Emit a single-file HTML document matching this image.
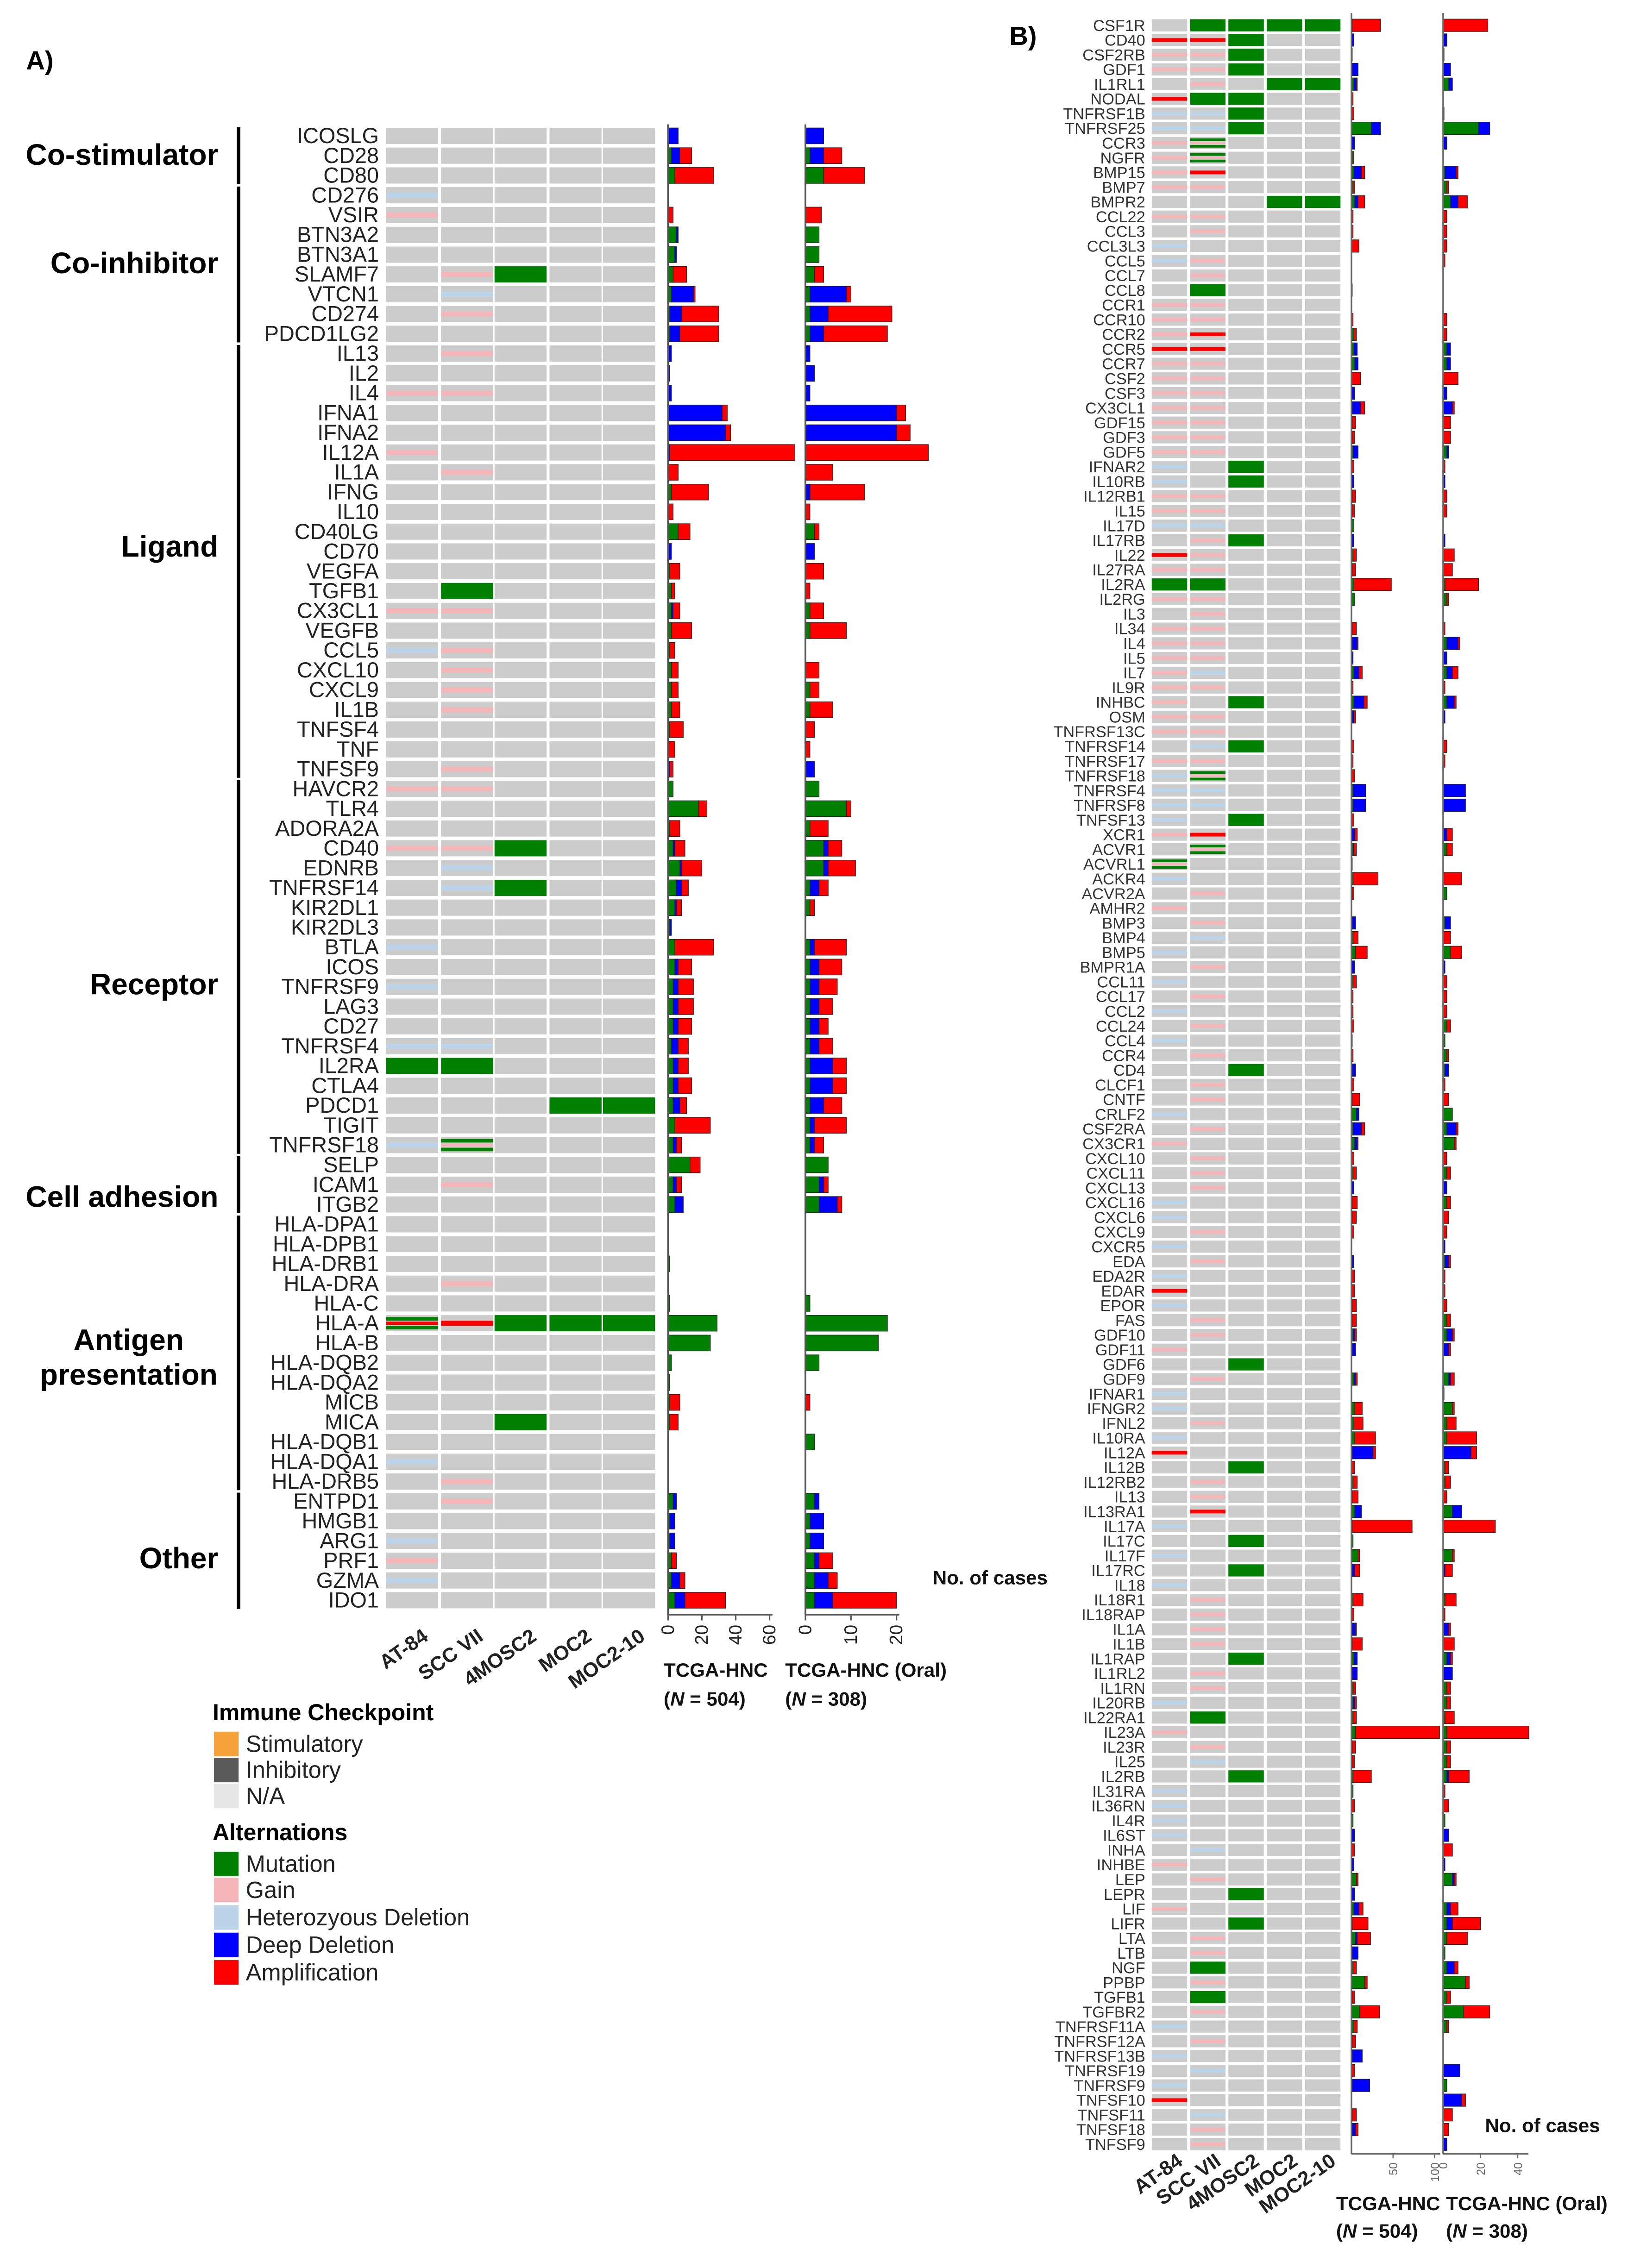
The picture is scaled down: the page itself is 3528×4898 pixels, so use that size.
<!DOCTYPE html>
<html><head><meta charset="utf-8">
<style>
html,body{margin:0;padding:0;background:#fff;}
svg{display:block;font-family:"Liberation Sans",Arial,sans-serif;}
</style></head>
<body>
<svg id="fig" xmlns="http://www.w3.org/2000/svg" width="3528" height="4898" viewBox="0 0 1130 1569" preserveAspectRatio="none">
<text x="18" y="48" font-size="18" font-weight="bold">A)</text>
<text x="698" y="31" font-size="18" font-weight="bold">B)</text>
<g id="gA"></g>
<g id="gB"></g>
<g id="legend">
<text x="147" y="1190" font-size="16" font-weight="bold">Immune Checkpoint</text>
<rect x="148" y="1198" width="17" height="17" fill="#f7a13a"/><text x="170" y="1212" font-size="16.2" fill="#222">Stimulatory</text>
<rect x="148" y="1216" width="17" height="17" fill="#595959"/><text x="170" y="1230" font-size="16.2" fill="#222">Inhibitory</text>
<rect x="148" y="1234" width="17" height="17" fill="#e6e6e6"/><text x="170" y="1248" font-size="16.2" fill="#222">N/A</text>
<text x="147" y="1273" font-size="16" font-weight="bold">Alternations</text>
<rect x="148" y="1281" width="17" height="17" fill="#008000"/><text x="170" y="1295" font-size="16.2" fill="#222">Mutation</text>
<rect x="148" y="1299" width="17" height="17" fill="#f4b6b8"/><text x="170" y="1313" font-size="16.2" fill="#222">Gain</text>
<rect x="148" y="1318" width="17" height="17" fill="#bcd4ea"/><text x="170" y="1332" font-size="16.2" fill="#222">Heterozyous Deletion</text>
<rect x="148" y="1337" width="17" height="17" fill="#0000ff"/><text x="170" y="1351" font-size="16.2" fill="#222">Deep Deletion</text>
<rect x="148" y="1356" width="17" height="17" fill="#ff0000"/><text x="170" y="1370" font-size="16.2" fill="#222">Amplification</text>
</g>
</svg>
<script>
// ---------- Panel A data ----------
const genesA = ["ICOSLG","CD28","CD80",
"CD276","VSIR","BTN3A2","BTN3A1","SLAMF7","VTCN1","CD274","PDCD1LG2",
"IL13","IL2","IL4","IFNA1","IFNA2","IL12A","IL1A","IFNG","IL10","CD40LG","CD70","VEGFA","TGFB1","CX3CL1","VEGFB","CCL5","CXCL10","CXCL9","IL1B","TNFSF4","TNF","TNFSF9",
"HAVCR2","TLR4","ADORA2A","CD40","EDNRB","TNFRSF14","KIR2DL1","KIR2DL3","BTLA","ICOS","TNFRSF9","LAG3","CD27","TNFRSF4","IL2RA","CTLA4","PDCD1","TIGIT","TNFRSF18",
"SELP","ICAM1","ITGB2",
"HLA-DPA1","HLA-DPB1","HLA-DRB1","HLA-DRA","HLA-C","HLA-A","HLA-B","HLA-DQB2","HLA-DQA2","MICB","MICA","HLA-DQB1","HLA-DQA1","HLA-DRB5",
"ENTPD1","HMGB1","ARG1","PRF1","GZMA","IDO1"];
const heatA = [".....",".....",".....",
"h....","g....",".....",".....",".gm..",".h...",".g...",".....",
".g...",".....","gg...",".....",".....","g....",".g...",".....",".....",".....",".....",".....",".m...","gg...",".....","hg...",".g...",".g...",".g...",".....",".....",".g...",
"gg...",".....",".....","ggm..",".h...",".hm..",".....",".....","h....",".....","h....",".....",".....","hh...","mm...",".....","...mm",".....","hs...",
".....",".g...",".....",
".....",".....",".....",".g...",".....","xammm",".....",".....",".....",".....","..m..",".....","h....",".g...",
".g...",".....","h....","g....","h....","....."];
const allMutA = [0,2,4, 0,0,5,4,3,2,1,1, 0,0,0,0,0,0,0,2,0,6,0,1,2,2,2,1,2,2,2,1,0,0, 3,18,1,3,7,5,4,1,4,4,3,3,3,2,3,3,3,4,3, 13,3,4, 0,0,1,0,1,29,25,2,1,1,1,0,0,0, 3,1,1,2,2,4];
const allDelA = [6,5,0, 0,0,1,1,0,13,7,6, 2,1,2,32,34,1,0,0,0,0,2,0,0,1,0,0,0,0,0,0,0,1, 0,0,0,1,1,3,1,1,0,2,3,3,3,4,3,3,4,0,2, 0,2,5, 0,0,0,0,0,0,0,0,0,0,0,0,0,0, 2,3,3,0,5,6];
const allAmpA = [0,7,23, 0,3,0,0,8,1,22,23, 0,0,0,3,3,74,6,22,3,7,0,6,2,4,12,3,4,4,5,8,4,2, 0,5,6,6,12,4,3,0,23,8,9,9,8,6,6,8,4,21,3, 6,3,0, 0,0,0,0,0,0,0,0,0,6,5,0,0,0, 0,0,0,3,3,24];
const oralMutA = [0,1,4, 0,0,3,3,2,1,1,1, 0,0,0,0,0,0,0,0,0,2,0,0,0,1,1,0,0,1,1,0,0,0, 3,9,1,4,4,1,1,0,1,1,1,1,1,1,1,1,1,1,1, 5,3,3, 0,0,0,0,1,18,16,3,0,0,0,2,0,0, 2,1,1,2,2,2];
const oralDelA = [4,3,0, 0,0,0,0,0,8,4,3, 1,2,1,20,20,0,0,1,0,0,2,0,0,0,0,0,0,0,0,0,0,2, 0,0,0,1,1,2,0,0,1,2,2,2,2,2,5,5,3,1,1, 0,1,4, 0,0,0,0,0,0,0,0,0,0,0,0,0,0, 1,3,3,1,3,4];
const oralAmpA = [0,4,9, 0,3.5,0,0,2,1,14,14, 0,0,0,2,3,27,6,12,1,1,0,4,1,3,8,0,3,2,5,2,1,0, 0,1,4,3,6,2,1,0,7,5,4,3,2,3,3,3,4,7,2, 0,1,1, 0,0,0,0,0,0,0,0,0,1,0,0,0,0, 0,0,0,3,2,14];
const sectionNames = ["Co-stimulator","Co-inhibitor","Ligand","Receptor","Cell adhesion","Antigen presentation","Other"];
const sectionStart = [0,3,11,33,52,55,69];
const sectionEnd = [2,10,32,51,54,68,74];
const cellLines = ["AT-84","SCC VII","4MOSC2","MOC2","MOC2-10"];
const ticksA1 = [0,20,40,60];
const ticksA2 = [0,10,20];

// ---------- Panel B data ----------
const genesB = ["CSF1R","CD40","CSF2RB","GDF1","IL1RL1","NODAL","TNFRSF1B","TNFRSF25","CCR3","NGFR","BMP15","BMP7","BMPR2","CCL22","CCL3","CCL3L3","CCL5","CCL7","CCL8","CCR1","CCR10","CCR2","CCR5","CCR7","CSF2","CSF3","CX3CL1","GDF15","GDF3","GDF5","IFNAR2","IL10RB","IL12RB1","IL15","IL17D","IL17RB","IL22","IL27RA","IL2RA","IL2RG","IL3","IL34","IL4","IL5","IL7","IL9R","INHBC","OSM","TNFRSF13C","TNFRSF14","TNFRSF17","TNFRSF18","TNFRSF4","TNFRSF8","TNFSF13","XCR1","ACVR1","ACVRL1","ACKR4","ACVR2A","AMHR2","BMP3","BMP4","BMP5","BMPR1A","CCL11","CCL17","CCL2","CCL24","CCL4","CCR4","CD4","CLCF1","CNTF","CRLF2","CSF2RA","CX3CR1","CXCL10","CXCL11","CXCL13","CXCL16","CXCL6","CXCL9","CXCR5","EDA","EDA2R","EDAR","EPOR","FAS","GDF10","GDF11","GDF6","GDF9","IFNAR1","IFNGR2","IFNL2","IL10RA","IL12A","IL12B","IL12RB2","IL13","IL13RA1","IL17A","IL17C","IL17F","IL17RC","IL18","IL18R1","IL18RAP","IL1A","IL1B","IL1RAP","IL1RL2","IL1RN","IL20RB","IL22RA1","IL23A","IL23R","IL25","IL2RB","IL31RA","IL36RN","IL4R","IL6ST","INHA","INHBE","LEP","LEPR","LIF","LIFR","LTA","LTB","NGF","PPBP","TGFB1","TGFBR2","TNFRSF11A","TNFRSF12A","TNFRSF13B","TNFRSF19","TNFRSF9","TNFSF10","TNFSF11","TNFSF18","TNFSF9"];
const heatB = [".mmmm","aam..","ggm..","ggm..",".g.mm","amm..","hhm..","hhm..","gs...","gs...","ga...","gg...","...mm","gg...",".g...","h....","hg...",".g...",".m...","gg...","gg...","ga...","aa...","gg...","gg...","gg...","gg...","gg...","gg...","gg...","h.m..","h.m..","gg...","gg...","hh...",".gm..","ag...","gg...","mm...","gg...",".g...","gg...","gg...","gg...","gh...","gg...","g.m..","gg...","gg...",".hm..","gg...","hs...","hh...","hh...","h.m..","ga...",".s...","s....","h....",".g...","g....",".g...",".h...","h....",".g...","h....",".g...","h....",".g...","h....",".g...","..m..",".g...",".g...","h....",".g...","g....",".g...",".g...",".g...","h....","h....",".g...","h....",".g...","h....","a....","h....",".g...",".g...","g....","..m..",".g...","h....","h....",".g...","h....","a....","..m..",".g...",".g...",".a...","h....","..m..","h....","..m..","h....",".g...",".g...",".g...",".g...","..m..",".g...",".g...","h....",".m...","g....",".g...",".h...","..m..","h....","h....","h....","h....",".h...","g....",".g...","..m..","g....","..m..",".g...",".g...",".m...",".g...",".m...",".g...","h....",".g...","h....",".h...","h....","a....",".h...",".g...",".g..."];
const allMutB = [1,0,1,1,3,0,0,24,0,2,3,2,4,0,0,0,0,0,0,0,0,3,3,4,0,0,1,1,1,2,0,0,1,1,3,0,2,1,3,4,0,1,1,0,3,0,3,1,0,0,0,0,2,2,0,0,2,1,2,1,0,1,2,5,0,2,0,0,0,1,0,1,0,1,6,2,4,0,2,0,1,1,0,0,1,0,0,1,1,2,1,0,3,0,4,3,4,1,0,2,1,4,1,2,8,1,0,2,0,0,1,3,1,2,2,2,5,1,1,2,2,0,2,0,0,0,6,0,3,1,5,1,2,16,1,10,3,1,1,0,1,0,1,1,0];
const allDelB = [0,3,0,7,3,0,0,11,4,0,9,0,4,0,0,0,0,0,0,0,0,0,4,4,0,4,10,0,0,6,0,3,0,0,0,3,0,0,0,0,0,0,6,2,6,0,12,2,0,0,0,0,15,15,0,4,1,0,0,0,0,4,0,0,4,0,0,0,0,0,0,4,0,0,3,10,3,0,0,3,0,0,0,0,2,0,0,0,0,2,4,0,2,0,0,0,0,25,0,0,0,8,0,0,0,3,0,0,0,5,0,4,6,0,2,0,0,0,0,0,0,0,0,4,0,3,0,4,6,0,2,7,0,0,0,0,0,0,12,0,21,0,0,4,0];
const allAmpB = [34,0,0,0,1,2,3,0,0,1,4,2,8,2,2,9,0.5,0,1,0,2,3,0,0,11,0,5,4,3,0,3,0,4,3,0,0,4,4,45,0,0,5,1,0,4,2,4,2,0,3,2,4,0,0,3,3,3,0,30,2,0,0,6,14,0,4,2,2,3,0,2,0,3,9,0,4,1,3,4,0,6,5,3,0,0,4,4,5,5,2,0,0,2,0,9,11,25,3,4,5,7,0,72,0,2,6,0,12,3,1,12,0,0,3,2,4,101,4,3,22,0,4,0,0,4,0,2,0,5,19,16,0,4,3,3,24,4,4,0,4,0,0,5,3,0];
const oralMutB = [0,0,0.5,0,3,0,0.5,19,0,0,1,2,4,0,0,0,0,0,0,0,0,0,2,2,0,0,0,0,0,2,0,0,0,0,0,0,0,0,1,2,0,0,2,0,2,0,2,0,0,0,0,0,0,0,0,0,2,0,0,2,0,1,0,4,0,0,0,0,2,1,2,1,0,0,5,2,6,0,2,0,2,0,0,0,1,0,0,0,2,2,0,0,3,0,5,2,2,0,1,1,0,5,0,0,5,0,0,1,0,0,0,2,0,2,2,1,2,2,2,2,0,0,1,0,0,0,5,0,2,2,2,1,2,12,2,11,2,0,0,0,2,0,0,0,0];
const oralDelB = [0,2,0,4,2,0,0,6,2,0,6,0,4,0,0,0,0,0,0,0,0,0,2,2,0,2,5,0,0,1,0,1,0,0,0,1,0,0,0,0,0,0,6,2,3,0,4,1,0,0,0,0,12,12,0,2,0,0,0,0,0,3,0,0,1,0,0,0,0,0,0,2,0,0,0,5,0,0,0,2,0,0,0,1,2,0,0,0,0,3,3,0,1,0,0,0,0,15,0,0,0,5,0,0,0,1,0,0,0,3,0,2,5,0,0,0,0,0,0,1,0,0,0,3,0,1,1,0,2,3,0,0,4,0,0,0,0,0,0,9,0,10,0,0,2,0];
const oralAmpB = [24,0,0,0,0,0,0,0,0,0,1,1,5,2,2,2,1,0,0,0,2,2,0,0,8,0,1,4,4,0,1,0,2,2,0,0,6,5,18,1,0,1,1,0,3,1,1,0,0,2,1,0,0,0,0,3,3,0,10,0,0,0,4,6,0,2,2,2,2,0,1,0,1,3,0,1,1,2,2,0,2,3,2,0,1,1,1,2,2,1,1,0,2,0.5,1,5,16,3,2,3,2,0,28,0,1,4,0,6,1,1,6,1,0,2,2,5,44,2,2,11,1,3,0,0,5,0,1,0,4,15,11,0,2,2,2,14,1,0,0,0,0,2,5,3,0];
const ticksB1 = [50,100];
const ticksB2 = [20,40];

// ---------- drawing helpers ----------
const NS = "http://www.w3.org/2000/svg";
function mk(tag, attrs, parent, txt){
  const e = document.createElementNS(NS, tag);
  for (const k in attrs) e.setAttribute(k, attrs[k]);
  if (txt !== undefined) e.textContent = txt;
  parent.appendChild(e);
  return e;
}
const COL = {m:"#008000", g:"#f4b6b8", h:"#bcd4ea", a:"#ff0000", gray:"#cccccc", del:"#0000ff"};

function drawHeatCell(parent, code, x, y, w, h, lineH){
  const c = mk("rect", {x:x, y:y, width:w, height:h, fill:COL.gray}, parent);
  
  
  const cy = y + h/2;
  if (code === "m") {
    const r = mk("rect", {x:x, y:y, width:w, height:h, fill:COL.m}, parent);
    
    
  } else if (code === "g" || code === "h" || code === "a") {
    const r = mk("rect", {x:x, y:cy-lineH/2, width:w, height:lineH, fill:COL[code]}, parent);
    
    
  } else if (code === "s" || code === "x") {
    const mid = code === "s" ? COL.g : COL.a;
    const s1 = mk("rect", {x:x, y:y+h*0.12, width:w, height:h*0.22, fill:COL.m}, parent);
    
    
    const s2 = mk("rect", {x:x, y:y+h*0.40, width:w, height:h*0.2, fill:mid}, parent);
    
    
    const s3 = mk("rect", {x:x, y:y+h*0.66, width:w, height:h*0.22, fill:COL.m}, parent);
    
    
  }
}

function drawStack(parent, scale, y, h, mut, del, amp){
  const parts = [[mut, COL.m, 'bar-mutation'], [del, COL.del, 'bar-deep-deletion'], [amp, COL.a, 'bar-amplification']];
  let v0 = 0;
  for (const p of parts){
    if (p[0] > 0){
      const x1 = scale(v0), x2 = scale(v0 + p[0]);
      const r = mk("rect", {x:x1, y:y, width:Math.max(x2-x1,0.3), height:h, fill:p[1], stroke:"#222", "stroke-width":0.4}, parent);
      
      
      v0 += p[0];
    }
  }
}

// ---------- Panel A ----------
(function(){
  const g = document.getElementById("gA");
  const rowY = i => 94 + i*13.69;
  const colX = [267,305,342,380,417], colW = 36, cellH = 11.2;
  const s1 = v => 462 + v*1.17;
  const s2 = v => 557 + v*3.15;
  genesA.forEach((name,i)=>{
    const y = rowY(i);
    const t = mk("text", {x:262, y:y+5, "font-size":15, fill:"#222", "text-anchor":"end"}, g, name);
    
    
    for (let c=0;c<5;c++) drawHeatCell(g, heatA[i][c], colX[c], y-cellH/2, colW, cellH, 3.5);
    drawStack(g, s1, y-5.5, 11, allMutA[i], allDelA[i], allAmpA[i]);
    drawStack(g, s2, y-5.5, 11, oralMutA[i], oralDelA[i], oralAmpA[i]);
  });
  const labelY = [107,182,378,681,828,927,1078];
  sectionNames.forEach((n,k)=>{
    const l = mk("line", {x1:165, x2:165, y1:rowY(sectionStart[k])-6, y2:rowY(sectionEnd[k])+6, stroke:"#000", "stroke-width":2.4}, g);
    
    
    if (n === "Antigen presentation"){
      const t1 = mk("text", {x:89, y:labelY[k]+7, "font-size":20.5, "font-weight":"bold", "text-anchor":"middle"}, g, "Antigen");
      
      
      const t2 = mk("text", {x:89, y:labelY[k]+31, "font-size":20.5, "font-weight":"bold", "text-anchor":"middle"}, g, "presentation");
      
      
    } else {
      const t = mk("text", {x:151, y:labelY[k]+7, "font-size":20.5, "font-weight":"bold", "text-anchor":"end"}, g, n);
      
      
    }
  });
  const yTop = 86, yBot = 1117;
  [[462,s1,ticksA1,"all"],[557,s2,ticksA2,"oral"]].forEach(ax=>{
    const v = mk("line", {x1:ax[0], x2:ax[0], y1:yTop, y2:yBot, stroke:"#555", "stroke-width":1.2}, g);
    
    
    const last = ax[2][ax[2].length-1];
    const hz = mk("line", {x1:ax[0], x2:ax[1](last)+2, y1:yBot, y2:yBot, stroke:"#555", "stroke-width":1.2}, g);
    
    
    ax[2].forEach(tv=>{
      const x = ax[1](tv);
      const tk = mk("line", {x1:x, x2:x, y1:yBot, y2:yBot+4, stroke:"#555", "stroke-width":1}, g);
      
      
      const tl = mk("text", {x:0, y:0, "font-size":12.5, fill:"#222", "text-anchor":"end", transform:`translate(${x+4},${yBot+7}) rotate(-90)`}, g, String(tv));
      
      
    });
  });
  cellLines.forEach((n,c)=>{
    const x = colX[c] + colW/2 + 12;
    const t = mk("text", {x:0, y:0, "font-size":14, "font-weight":"bold", fill:"#222", "text-anchor":"end", transform:`translate(${x},${1134}) rotate(-35)`}, g, n);
    
    
  });
  const tt = [["TCGA-HNC",459,1160],["(N = 504)",459,1180],["TCGA-HNC (Oral)",543,1160],["(N = 308)",543,1180]];
  tt.forEach(a=>{
    const t = mk("text", {x:a[1], y:a[2], "font-size":13.5, "font-weight":"bold", fill:"#111"}, g);
    if (a[0].startsWith("(N")){
      mk("tspan", {}, t, "(");
      mk("tspan", {"font-style":"italic"}, t, "N");
      mk("tspan", {}, t, a[0].slice(2));
    } else t.textContent = a[0];
    
    
  });
  const nc = mk("text", {x:645, y:1096, "font-size":13.5, "font-weight":"bold", fill:"#111"}, g, "No. of cases");
  
  
})();

// ---------- Panel B ----------
(function(){
  const g = document.getElementById("gB");
  const rowY = i => 17.5 + i*10.18;
  const colX = [796.5,823,849.5,876,902.5], colW = 24.5, cellH = 8.4;
  const s1 = v => 934.6 + v*0.575;
  const s2 = v => 998 + v*1.29;
  genesB.forEach((name,i)=>{
    const y = rowY(i);
    const t = mk("text", {x:792, y:y+3.9, "font-size":11, fill:"#333", "text-anchor":"end"}, g, name);
    
    
    for (let c=0;c<5;c++) drawHeatCell(g, heatB[i][c], colX[c], y-cellH/2, colW, cellH, 2.6);
    drawStack(g, s1, y-4.3, 8.6, allMutB[i], allDelB[i], allAmpB[i]);
    drawStack(g, s2, y-4.3, 8.6, oralMutB[i], oralDelB[i], oralAmpB[i]);
  });
  const yTop = 9, yBot = 1490;
  [[934.6,s1,ticksB1,"all",996],[998,s2,ticksB2,"oral",1057]].forEach(ax=>{
    const v = mk("line", {x1:ax[0], x2:ax[0], y1:yTop, y2:yBot, stroke:"#666", "stroke-width":1.1}, g);
    
    
    const hz = mk("line", {x1:ax[0], x2:ax[4], y1:yBot, y2:yBot, stroke:"#666", "stroke-width":1.1}, g);
    
    
    ax[2].forEach(tv=>{
      const x = ax[1](tv);
      const tk = mk("line", {x1:x, x2:x, y1:yBot, y2:yBot+3, stroke:"#666", "stroke-width":0.8}, g);
      
      
      const tl = mk("text", {x:0, y:0, "font-size":8, fill:"#666", "text-anchor":"end", transform:`translate(${x+3},${yBot+6}) rotate(-90)`}, g, String(tv));
      
      
    });
  });
  const z = mk("text", {x:0, y:0, "font-size":8, fill:"#666", "text-anchor":"end", transform:`translate(${1001},${1496}) rotate(-90)`}, g, "0");
  
  
  cellLines.forEach((n,c)=>{
    const x = colX[c] + colW/2 + 10;
    const t = mk("text", {x:0, y:0, "font-size":14, "font-weight":"bold", fill:"#222", "text-anchor":"end", transform:`translate(${x},${1497}) rotate(-35)`}, g, n);
    
    
  });
  const tt = [["TCGA-HNC",924,1529],["(N = 504)",924,1548],["TCGA-HNC (Oral)",1000,1529],["(N = 308)",1000,1548]];
  tt.forEach(a=>{
    const t = mk("text", {x:a[1], y:a[2], "font-size":13.5, "font-weight":"bold", fill:"#111"}, g);
    if (a[0].startsWith("(N")){
      mk("tspan", {}, t, "(");
      mk("tspan", {"font-style":"italic"}, t, "N");
      mk("tspan", {}, t, a[0].slice(2));
    } else t.textContent = a[0];
    
    
  });
  const nc = mk("text", {x:1027, y:1475, "font-size":13.5, "font-weight":"bold", fill:"#111"}, g, "No. of cases");
  
  
})();
</script>
</body></html>
